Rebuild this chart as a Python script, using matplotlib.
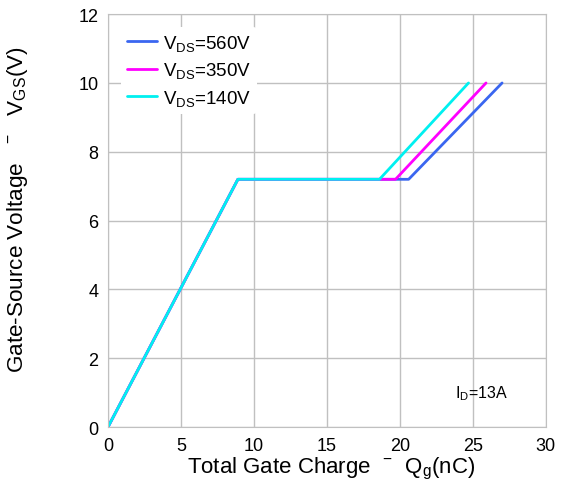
import matplotlib.pyplot as plt

plt.rcParams.update({
    'font.family': ['Liberation Sans', 'DejaVu Sans'],
    'mathtext.default': 'regular',
    'axes.unicode_minus': False,
})

# gate charge curves (Qg in nC, Vgs in V)
labels = ['$V_{DS}$=560V', '$V_{DS}$=350V', '$V_{DS}$=140V']
colors = ['#3a66f0', '#ff00ff', '#00f0f0']
qg_560 = [0, 8.9, 20.6, 27.0]
qg_350 = [0, 8.9, 19.7, 25.9]
qg_140 = [0, 8.9, 18.6, 24.7]
vgs = [0, 7.2, 7.2, 10.0]

fig = plt.figure(figsize=(5.61, 4.89), dpi=100)
ax = fig.add_axes([0.1925, 0.1247, 0.7805, 0.8443])

for q, c, lab in zip([qg_560, qg_350, qg_140], colors, labels):
    ax.plot(q, vgs, color=c, lw=2.0, label=lab, solid_capstyle='round')

ax.set_xlim(0, 30)
ax.set_ylim(0, 12)
ax.set_xticks(range(0, 31, 5))
ax.set_yticks(range(0, 13, 2))
ax.grid(color='#c0c0c0', lw=1.0)
ax.set_axisbelow(True)
for s in ax.spines.values():
    s.set_color('#c0c0c0')
ax.tick_params(length=0, labelsize=13, pad=7)

ax.set_xlabel('Total Gate Charge  $^{-}$  Q$_{g}$(nC)', fontsize=16)
ax.xaxis.set_label_coords(0.51, -0.068)
ax.set_ylabel('Gate-Source Voltage   $^{-}$   V$_{GS}$(V)', fontsize=16.2)
ax.yaxis.set_label_coords(-0.178, 0.53)

ax.text(23.8, 0.85, '$I_{D}$=13A', fontsize=11.5)

leg = ax.legend(loc='upper left', fontsize=13.5, frameon=True, framealpha=1,
                edgecolor='none', handlelength=1.6, handletextpad=0.35,
                labelspacing=0.4, borderaxespad=0.7, borderpad=0.3)
leg.get_frame().set_linewidth(0)

fig.savefig('out.png', dpi=100)
